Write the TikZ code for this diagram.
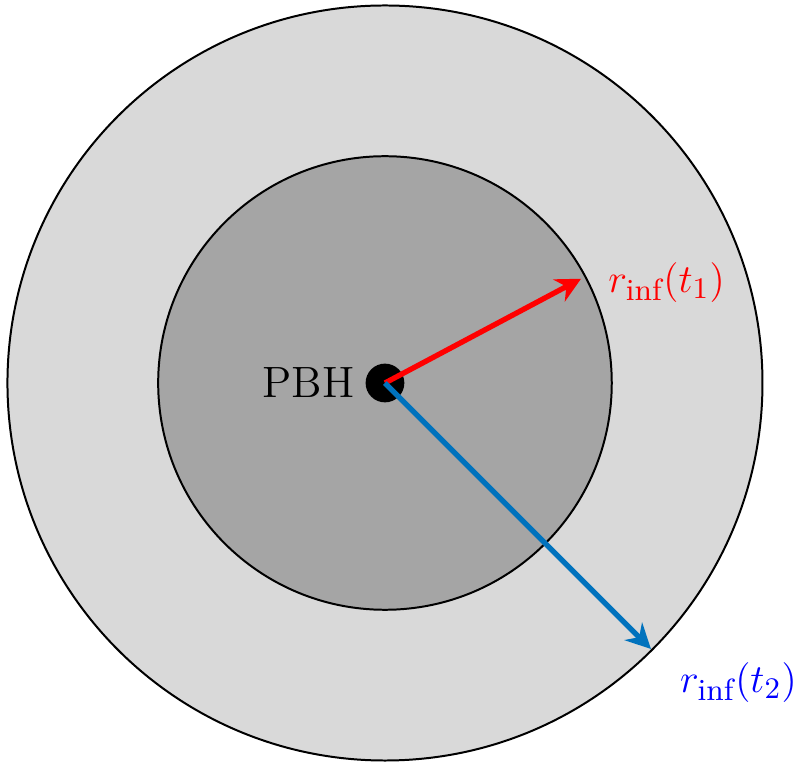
\documentclass[tikz,border=0pt]{standalone}
\usepackage{amsmath,amssymb}
\usepackage{xcolor}
\usepackage{tikz}
\usetikzlibrary{positioning,arrows.meta,calc}
\definecolor{outergray}{RGB}{217,217,217}
\definecolor{innergray}{RGB}{165,165,165}
\definecolor{armblue}{RGB}{0,114,189}

\begin{document}
\begin{tikzpicture}[every node/.style={outer sep=0pt},
  radiusarrow/.style={line width=1.6pt,-{Stealth[length=7.5pt,width=7.5pt,inset=2.5pt]}},
  lbl/.style={font=\fontsize{13.2}{16}\selectfont}]
\useasboundingbox (-4.074,-4.021) rectangle (4.392,4.053);
\draw[fill=outergray,line width=0.6pt] (0,0) circle (3.995);
\draw[fill=innergray,line width=0.6pt] (0,0) circle (2.40);
\node[circle,fill=black,inner sep=0pt,minimum size=0.41cm] (pbh) at (0,0) {};
\node[lbl,left=0cm of pbh] (pbhlabel) {PBH};
\coordinate (tipone) at (28:2.35);
\coordinate (tiptwo) at (-45:3.98);
\draw[radiusarrow,red] (pbh.center) -- (tipone);
\draw[radiusarrow,armblue] (pbh.center) -- (tiptwo);
\node[lbl,red] (rone) at (2.98,1.06) {$r_{\text{inf}}(t_1)$};
\node[lbl,blue] (rtwo) at (3.74,-3.17) {$r_{\text{inf}}(t_2)$};
\end{tikzpicture}
\end{document}
